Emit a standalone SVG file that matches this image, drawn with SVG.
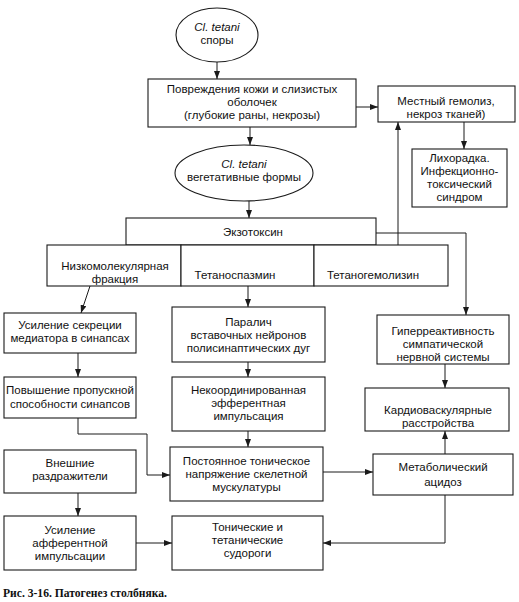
<svg xmlns="http://www.w3.org/2000/svg" width="519" height="602" viewBox="0 0 519 602">
<defs>
<marker id="ah" viewBox="0 0 8 6" refX="8" refY="3" markerWidth="8" markerHeight="6" markerUnits="userSpaceOnUse" orient="auto">
<path d="M0,0 L8,3 L0,6 Z" fill="#1a1a1a"/>
</marker>
</defs>
<style>
.b{fill:#fff;stroke:#1a1a1a;stroke-width:1.1}
.t{font-family:"Liberation Sans",Arial,sans-serif;font-size:11.5px;fill:#111;text-anchor:middle}
.i{font-style:italic}
.c{fill:none;stroke:#1a1a1a;stroke-width:1;marker-end:url(#ah)}
.cap{font-family:"Liberation Serif","Times New Roman",serif;font-weight:bold;font-size:12px;fill:#111}
</style>
<rect width="519" height="602" fill="#fff"/>
<g id="connectors">
<path class="c" d="M217,62 L217,79"/>
<path class="c" d="M356,107 L378,107"/>
<path class="c" d="M464,122 L464,149"/>
<path class="c" d="M250,127 L250,145"/>
<path class="c" d="M249,201 L249,218"/>
<path class="c" d="M376,233 L466,233 L466,315"/>
<path class="c" d="M398,245 L398,122"/>
<path class="c" d="M90,286 L81,313"/>
<path class="c" d="M248,286 L248,307"/>
<path class="c" d="M78,353 L78,377"/>
<path class="c" d="M248,362 L248,377"/>
<path class="c" d="M248,431 L248,447"/>
<path class="c" d="M78,418 L78,434 L147,434 L147,475 L170,475"/>
<path class="c" d="M78,493 L78,516"/>
<path class="c" d="M136,543 L172,543"/>
<path class="c" d="M323,472 L373,472"/>
<path class="c" d="M445,364 L445,388"/>
<path class="c" d="M445,454 L445,431"/>
<path class="c" d="M445,495 L445,543 L323,543"/>
</g>
<g id="spores">
<ellipse class="b" cx="217" cy="35" rx="41" ry="27"/>
<text class="t i" x="217" y="30.5">Cl. tetani</text>
<text class="t" x="217" y="43.5">споры</text>
</g>
<g id="damage">
<rect class="b" x="148" y="79" width="208" height="48"/>
<text class="t" x="252" y="92.5">Повреждения кожи и слизистых</text>
<text class="t" x="252" y="105.5">оболочек</text>
<text class="t" x="252" y="118.5">(глубокие раны, некрозы)</text>
</g>
<g id="hemolysis">
<rect class="b" x="378" y="86" width="137" height="36"/>
<text class="t" x="446" y="104.5">Местный гемолиз,</text>
<text class="t" x="446" y="117.5">некроз тканей)</text>
</g>
<g id="fever">
<rect class="b" x="412" y="149" width="95" height="58"/>
<text class="t" x="459.5" y="162">Лихорадка.</text>
<text class="t" x="459.5" y="175">Инфекционно-</text>
<text class="t" x="459.5" y="188">токсический</text>
<text class="t" x="459.5" y="201">синдром</text>
</g>
<g id="vegetative">
<ellipse class="b" cx="244" cy="173" rx="69" ry="28"/>
<text class="t i" x="244" y="167.5">Cl. tetani</text>
<text class="t" x="244" y="180.5">вегетативные формы</text>
</g>
<g id="exotoxin">
<rect class="b" x="126" y="218" width="250" height="27"/>
<text class="t" x="253" y="235.5">Экзотоксин</text>
</g>
<g id="lowmol">
<rect class="b" x="47" y="245" width="134" height="41"/>
<text class="t" x="115" y="269.5">Низкомолекулярная</text>
<text class="t" x="115" y="282.5">фракция</text>
</g>
<g id="tetanospasmin">
<rect class="b" x="181" y="245" width="133" height="41"/>
<text class="t" x="235" y="278.5">Тетаноспазмин</text>
</g>
<g id="tetanohemolysin">
<rect class="b" x="314" y="245" width="134" height="41"/>
<text class="t" x="373" y="278.5">Тетаногемолизин</text>
</g>
<g id="secretion">
<rect class="b" x="4" y="313" width="132" height="40"/>
<text class="t" x="70" y="329">Усиление секреции</text>
<text class="t" x="70" y="342">медиатора в синапсах</text>
</g>
<g id="permeability">
<rect class="b" x="4" y="377" width="132" height="41"/>
<text class="t" x="70" y="394">Повышение пропускной</text>
<text class="t" x="70" y="408">способности синапсов</text>
</g>
<g id="external">
<rect class="b" x="4" y="450" width="132" height="43"/>
<text class="t" x="70" y="467">Внешние</text>
<text class="t" x="70" y="480">раздражители</text>
</g>
<g id="afferent">
<rect class="b" x="4" y="516" width="132" height="54"/>
<text class="t" x="70" y="533.5">Усиление</text>
<text class="t" x="70" y="546.5">афферентной</text>
<text class="t" x="70" y="559.5">импульсации</text>
</g>
<g id="paralysis">
<rect class="b" x="172" y="307" width="153" height="55"/>
<text class="t" x="248.5" y="325.5">Паралич</text>
<text class="t" x="248.5" y="338.5">вставочных нейронов</text>
<text class="t" x="248.5" y="351.5">полисинаптических дуг</text>
</g>
<g id="efferent">
<rect class="b" x="172" y="377" width="153" height="54"/>
<text class="t" x="248.5" y="393.5">Некоординированная</text>
<text class="t" x="248.5" y="406.5">эфферентная</text>
<text class="t" x="248.5" y="419.5">импульсация</text>
</g>
<g id="tension">
<rect class="b" x="170" y="447" width="153" height="54"/>
<text class="t" x="246.5" y="464.5">Постоянное тоническое</text>
<text class="t" x="246.5" y="477.5">напряжение скелетной</text>
<text class="t" x="246.5" y="490.5">мускулатуры</text>
</g>
<g id="seizures">
<rect class="b" x="172" y="516" width="151" height="54"/>
<text class="t" x="247.5" y="531">Тонические и</text>
<text class="t" x="247.5" y="544">тетанические</text>
<text class="t" x="247.5" y="557">судороги</text>
</g>
<g id="hyperreactivity">
<rect class="b" x="377" y="315" width="132" height="49"/>
<text class="t" x="443" y="334.5">Гиперреактивность</text>
<text class="t" x="443" y="347.5">симпатической</text>
<text class="t" x="443" y="360.5">нервной системы</text>
</g>
<g id="cardio">
<rect class="b" x="365" y="388" width="144" height="43"/>
<text class="t" x="438" y="414">Кардиоваскулярные</text>
<text class="t" x="438" y="427">расстройства</text>
</g>
<g id="acidosis">
<rect class="b" x="373" y="454" width="140" height="41"/>
<text class="t" x="443" y="471">Метаболический</text>
<text class="t" x="443" y="486">ацидоз</text>
</g>
<text class="cap" x="3" y="597" textLength="164" lengthAdjust="spacingAndGlyphs">Рис. 3-16. Патогенез столбняка.</text>
</svg>
